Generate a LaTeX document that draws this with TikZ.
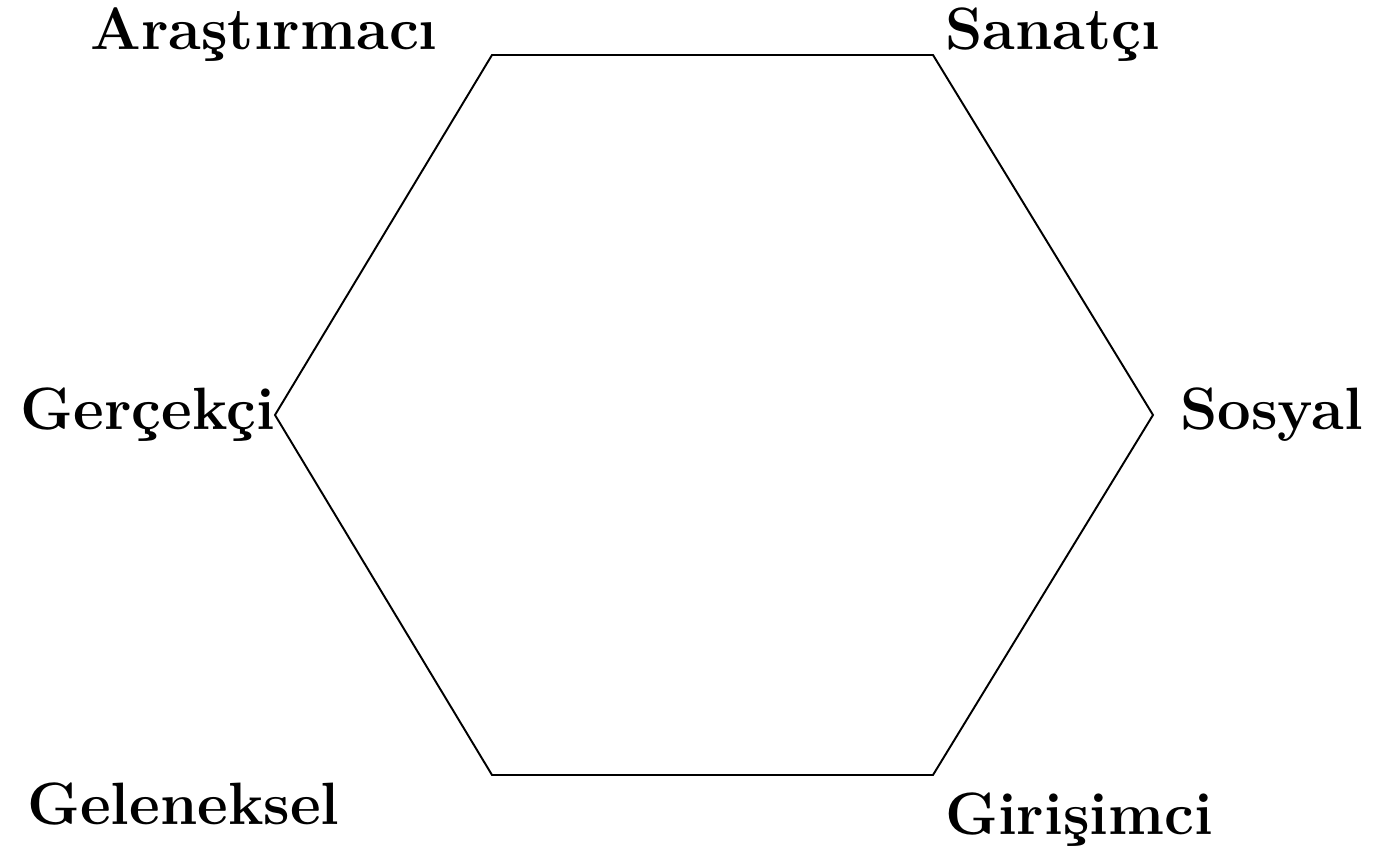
\documentclass[tikz,border=0pt]{standalone}
\usepackage{fontspec}
\usetikzlibrary{positioning}

\begin{document}
\begin{tikzpicture}[
    lbl/.style={font=\bfseries\fontsize{34}{39}\selectfont,inner sep=0pt},
    hex/.style={draw=black,line width=1.1pt,line join=miter}]
    \useasboundingbox (0,0) rectangle (27.56,17.1);
    \coordinate (A) at (9.84,16.0); \coordinate (B) at (18.66,16.0);
    \coordinate (C) at (23.06,8.8); \coordinate (D) at (18.66,1.6);
    \coordinate (E) at (9.84,1.6);  \coordinate (F) at (5.5,8.8);
    \draw[hex] (A)--(B)--(C)--(D)--(E)--(F)--cycle;
    \node[lbl,anchor=base east,xshift=-1.08cm,yshift=0.1cm] (arastirmaci) at (A) {Araştırmacı};
    \node[lbl,anchor=base west,xshift=0.24cm,yshift=0.1cm] (sanatci) at (B) {Sanatçı};
    \node[lbl,anchor=west,xshift=0.54cm] (sosyal) at (C) {Sosyal};
    \node[lbl,anchor=east] (gercekci) at (F) {Gerçekçi};
    \node[lbl,anchor=base east,xshift=-3.04cm,yshift=-1.0cm] (geleneksel) at (E) {Geleneksel};
    \node[lbl,anchor=base west,xshift=0.24cm,yshift=-1.2cm] (girisimci) at (D) {Girişimci};
  \end{tikzpicture}
\end{document}
